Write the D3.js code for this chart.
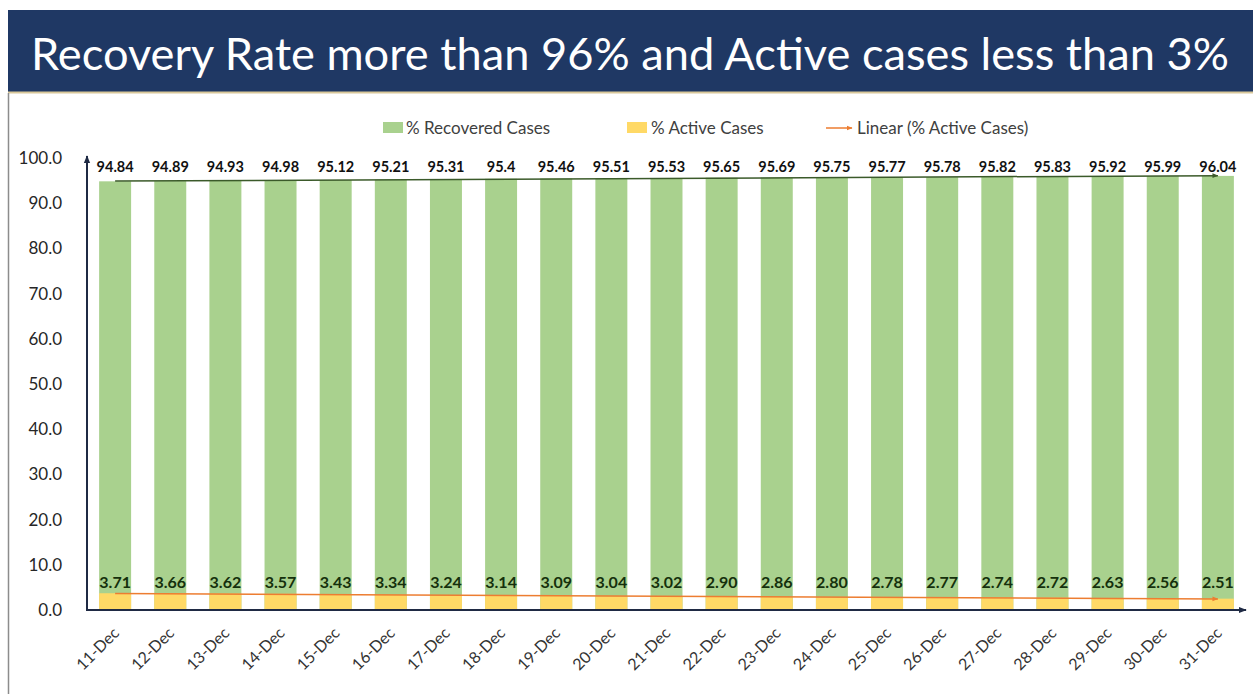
<!DOCTYPE html>
<html>
<head>
<meta charset="utf-8">
<script src="https://cdn.jsdelivr.net/npm/d3@7"></script>
<style>
  body { margin: 0; background: #fff; }
  svg { display: block; font-family: Lato, "Open Sans", sans-serif; }
</style>
</head>
<body>
<div class="chart"></div>
<script>
let days = ["11-Dec", "12-Dec", "13-Dec", "14-Dec", "15-Dec", "16-Dec", "17-Dec", "18-Dec", "19-Dec", "20-Dec",
  "21-Dec", "22-Dec", "23-Dec", "24-Dec", "25-Dec", "26-Dec", "27-Dec", "28-Dec", "29-Dec", "30-Dec", "31-Dec"];
let recovered = [94.84, 94.89, 94.93, 94.98, 95.12, 95.21, 95.31, 95.4, 95.46, 95.51,
  95.53, 95.65, 95.69, 95.75, 95.77, 95.78, 95.82, 95.83, 95.92, 95.99, 96.04];
let recoveredLabels = ["94.84", "94.89", "94.93", "94.98", "95.12", "95.21", "95.31", "95.4", "95.46", "95.51",
  "95.53", "95.65", "95.69", "95.75", "95.77", "95.78", "95.82", "95.83", "95.92", "95.99", "96.04"];
let active = [3.71, 3.66, 3.62, 3.57, 3.43, 3.34, 3.24, 3.14, 3.09, 3.04,
  3.02, 2.90, 2.86, 2.80, 2.78, 2.77, 2.74, 2.72, 2.63, 2.56, 2.51];
let yTicks = [0, 10, 20, 30, 40, 50, 60, 70, 80, 90, 100];
let legendItems = ["% Recovered Cases", "% Active Cases", "Linear (% Active Cases)"];
let titleText = "Recovery Rate more than 96% and Active cases less than 3%";

let width = 1253;
let height = 694;

let svg = d3.select(".chart")
  .append("svg")
  .attr("width", width)
  .attr("height", height);

// arrow heads
let defs = svg.append("defs");
function arrow(id, color, size) {
  defs.append("marker")
    .attr("id", id)
    .attr("viewBox", "0 0 10 10")
    .attr("refX", 9).attr("refY", 5)
    .attr("markerWidth", size).attr("markerHeight", size)
    .attr("orient", "auto")
    .append("path")
    .attr("d", "M0,1 L10,5 L0,9 Z")
    .attr("fill", color);
}
arrow("arrAxis", "#1f2a44", 4);
arrow("arrGreen", "#3b5a2a", 4);
arrow("arrOrange", "#ed7d31", 4);

// title band
svg.append("rect")
  .attr("x", 8).attr("y", 10)
  .attr("width", width - 8).attr("height", 82)
  .attr("fill", "#1f3864");
svg.append("line")
  .attr("x1", 8).attr("x2", width)
  .attr("y1", 92.5).attr("y2", 92.5)
  .attr("stroke", "#d9c89a").attr("stroke-width", 2);
svg.append("line")
  .attr("x1", 8.5).attr("x2", 8.5)
  .attr("y1", 93).attr("y2", height)
  .attr("stroke", "#8c8c8c").attr("stroke-width", 1.5);
svg.append("text")
  .attr("x", 630).attr("y", 70)
  .attr("text-anchor", "middle")
  .attr("fill", "#fff")
  .attr("font-size", 44)
  .attr("textLength", 1198)
  .attr("lengthAdjust", "spacingAndGlyphs")
  .text(titleText);

let x = d3.scaleBand()
  .domain(days)
  .range([87, 1246])
  .paddingInner(0.42)
  .paddingOuter(0.22);

let y = d3.scaleLinear()
  .domain([0, 100])
  .range([610, 158]);

// y tick labels
svg.append("g")
  .selectAll("text")
  .data(yTicks)
  .enter()
  .append("text")
  .attr("x", 62)
  .attr("y", d => y(d) + 6)
  .attr("text-anchor", "end")
  .attr("font-size", 17)
  .attr("fill", "#262626")
  .text(d => d.toFixed(1));

// recovered bars (drawn from zero, active overlaid)
svg.append("g")
  .selectAll("rect")
  .data(recovered)
  .enter()
  .append("rect")
  .attr("x", (d, i) => x(days[i]))
  .attr("y", d => y(d))
  .attr("width", x.bandwidth())
  .attr("height", d => y(0) - y(d))
  .attr("fill", "#a9d18e");

svg.append("g")
  .selectAll("rect")
  .data(active)
  .enter()
  .append("rect")
  .attr("x", (d, i) => x(days[i]))
  .attr("y", d => y(d))
  .attr("width", x.bandwidth())
  .attr("height", d => y(0) - y(d))
  .attr("fill", "#ffd966");

// linear trend lines
function fit(vals) {
  let n = vals.length;
  let mx = d3.mean(vals, (d, i) => i);
  let my = d3.mean(vals);
  let sxy = d3.sum(vals, (d, i) => (i - mx) * (d - my));
  let sxx = d3.sum(vals, (d, i) => (i - mx) * (i - mx));
  let b = sxy / sxx;
  let a = my - b * mx;
  return [a, a + b * (n - 1)];
}
let cx = d => x(d) + x.bandwidth() / 2;
let recFit = fit(recovered);
let actFit = fit(active);
svg.append("line")
  .attr("x1", cx(days[0])).attr("y1", y(recFit[0]))
  .attr("x2", cx(days[days.length - 1])).attr("y2", y(recFit[1]))
  .attr("stroke", "#3b5a2a").attr("stroke-width", 1.5)
  .attr("marker-end", "url(#arrGreen)");
svg.append("line")
  .attr("x1", cx(days[0])).attr("y1", y(actFit[0]))
  .attr("x2", cx(days[days.length - 1])).attr("y2", y(actFit[1]))
  .attr("stroke", "#ed7d31").attr("stroke-width", 1.5)
  .attr("marker-end", "url(#arrOrange)");

// axes with arrows
svg.append("line")
  .attr("x1", 87).attr("y1", y(0))
  .attr("x2", 87).attr("y2", 156)
  .attr("stroke", "#1f2a44").attr("stroke-width", 2)
  .attr("marker-end", "url(#arrAxis)");
svg.append("line")
  .attr("x1", 86).attr("y1", y(0))
  .attr("x2", 1246).attr("y2", y(0))
  .attr("stroke", "#1f2a44").attr("stroke-width", 2)
  .attr("marker-end", "url(#arrAxis)");

// value labels
svg.append("g")
  .selectAll("text")
  .data(recoveredLabels)
  .enter()
  .append("text")
  .attr("x", (d, i) => cx(days[i]))
  .attr("y", 172)
  .attr("text-anchor", "middle")
  .attr("font-size", 14.5)
  .attr("font-weight", "bold")
  .attr("fill", "#111")
  .text(d => d);

svg.append("g")
  .selectAll("text")
  .data(active)
  .enter()
  .append("text")
  .attr("x", (d, i) => cx(days[i]))
  .attr("y", 588)
  .attr("text-anchor", "middle")
  .attr("font-size", 16)
  .attr("font-weight", "bold")
  .attr("fill", "#15300c")
  .text(d => d.toFixed(2));

// x labels
svg.append("g")
  .selectAll("text")
  .data(days)
  .enter()
  .append("text")
  .attr("transform", d => "translate(" + (cx(d) + 5) + ",634) rotate(-45)")
  .attr("text-anchor", "end")
  .attr("font-size", 16)
  .attr("fill", "#333")
  .text(d => d);

// legend
let legend = svg.append("g").attr("font-size", 17).attr("fill", "#404040");
legend.append("rect").attr("x", 383).attr("y", 122).attr("width", 20).attr("height", 11).attr("fill", "#a9d18e");
legend.append("text").attr("x", 406).attr("y", 134).text(legendItems[0]);
legend.append("rect").attr("x", 627).attr("y", 122).attr("width", 20).attr("height", 11).attr("fill", "#ffd966");
legend.append("text").attr("x", 651).attr("y", 134).text(legendItems[1]);
legend.append("line").attr("x1", 826).attr("x2", 852).attr("y1", 128).attr("y2", 128)
  .attr("stroke", "#ed7d31").attr("stroke-width", 1.5)
  .attr("marker-end", "url(#arrOrange)");
legend.append("text").attr("x", 857).attr("y", 134).text(legendItems[2]);
</script>
</body>
</html>
